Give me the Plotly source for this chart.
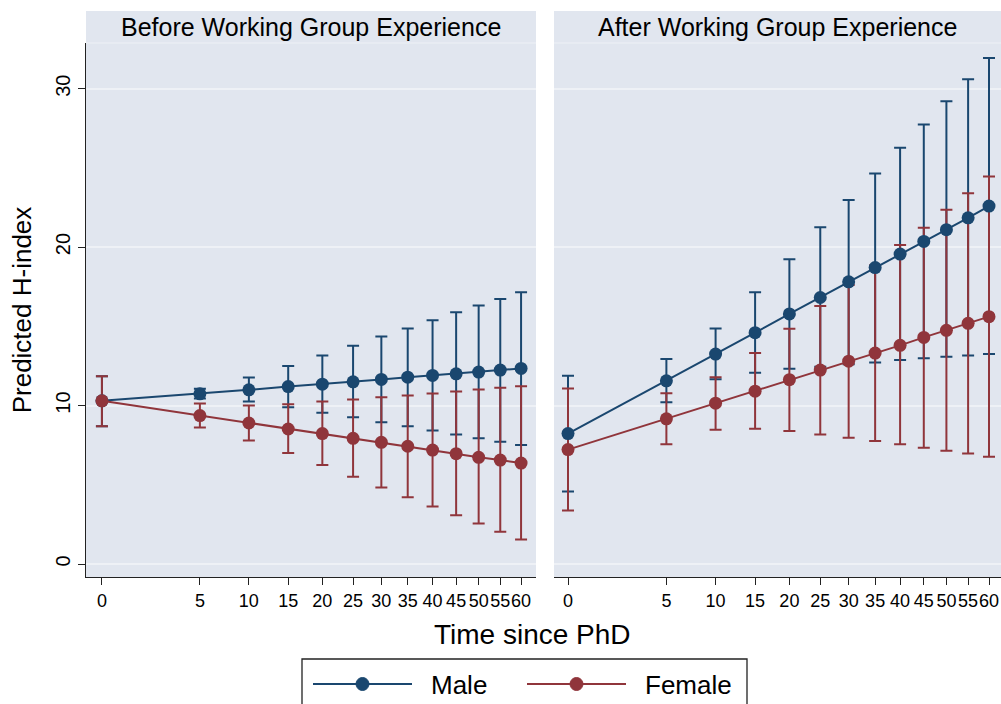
import plotly.graph_objects as go

# Years since PhD
years = [0, 5, 10, 15, 20, 25, 30, 35, 40, 45, 50, 55, 60]
tick_labels = [str(v) for v in years]

# Before working group experience
male_before = [10.30, 10.74, 10.99, 11.20, 11.35, 11.50, 11.65, 11.79, 11.90, 12.00, 12.11, 12.24, 12.34]
male_before_lo = [8.70, 10.44, 10.25, 9.89, 9.54, 9.26, 8.94, 8.69, 8.42, 8.18, 7.93, 7.72, 7.51]
male_before_hi = [11.85, 11.06, 11.77, 12.49, 13.16, 13.78, 14.35, 14.87, 15.38, 15.89, 16.31, 16.73, 17.15]
female_before = [10.30, 9.37, 8.90, 8.52, 8.23, 7.93, 7.68, 7.43, 7.19, 6.96, 6.73, 6.56, 6.37]
female_before_lo = [8.70, 8.61, 7.80, 7.00, 6.25, 5.51, 4.83, 4.22, 3.63, 3.08, 2.55, 2.03, 1.54]
female_before_hi = [11.85, 10.13, 10.00, 10.08, 10.25, 10.38, 10.53, 10.63, 10.76, 10.89, 11.01, 11.12, 11.22]

# After working group experience
male_after = [8.23, 11.56, 13.25, 14.60, 15.78, 16.82, 17.81, 18.71, 19.56, 20.36, 21.10, 21.85, 22.59]
male_after_lo = [4.58, 10.21, 11.66, 12.07, 12.32, 12.45, 12.60, 12.72, 12.87, 12.99, 13.08, 13.16, 13.25]
male_after_hi = [11.88, 12.93, 14.87, 17.15, 19.24, 21.25, 22.97, 24.64, 26.27, 27.74, 29.20, 30.59, 31.94]
female_after = [7.22, 9.16, 10.15, 10.91, 11.63, 12.24, 12.80, 13.31, 13.80, 14.30, 14.75, 15.19, 15.61]
female_after_lo = [3.38, 7.55, 8.48, 8.54, 8.40, 8.18, 7.97, 7.77, 7.55, 7.34, 7.15, 6.98, 6.77]
female_after_hi = [11.08, 10.78, 11.79, 13.31, 14.85, 16.29, 17.60, 18.85, 20.13, 21.22, 22.36, 23.40, 24.45]

panel_titles = ["Before Working Group Experience", "After Working Group Experience"]
legend_names = ["Male", "Female"]

NAVY = "#1a476f"
MAROON = "#90353b"
PANEL_BG = "#e1e6ef"
GRID = "#eef1f6"
FONT = "Liberation Sans, Arial, Helvetica, sans-serif"

# power-scaled time axis
POWER = 0.585


def scale(t):
    return t ** POWER


xs = [scale(t) for t in years]

W, H = 1001, 704
PLOT_TOP, PLOT_BOT = 43, 577
STRIP_TOP = 11
DOM1 = [86 / W, 536 / W]
DOM2 = [554 / W, 1.0]
YDOM = [1 - PLOT_BOT / H, 1 - PLOT_TOP / H]


def px(x):
    return x / W


def py(y):
    return 1 - y / H


fig = go.Figure()

series = [
    ("x", "y", male_before, male_before_lo, male_before_hi, female_before, female_before_lo, female_before_hi),
    ("x2", "y2", male_after, male_after_lo, male_after_hi, female_after, female_after_lo, female_after_hi),
]

for xa, ya, m, mlo, mhi, f, flo, fhi in series:
    # confidence intervals first, so points and lines sit on top
    for vals, lo, hi, col in [(m, mlo, mhi, NAVY), (f, flo, fhi, MAROON)]:
        fig.add_trace(go.Scatter(
            x=xs, y=vals, xaxis=xa, yaxis=ya, mode="markers",
            marker=dict(size=1, opacity=0, color=col),
            error_y=dict(type="data", symmetric=False,
                         array=[h - v for h, v in zip(hi, vals)],
                         arrayminus=[v - l for v, l in zip(vals, lo)],
                         color=col, thickness=2, width=6),
            showlegend=False, hoverinfo="skip"))
    for vals, col, name in [(m, NAVY, legend_names[0]), (f, MAROON, legend_names[1])]:
        fig.add_trace(go.Scatter(
            x=xs, y=vals, xaxis=xa, yaxis=ya, mode="lines+markers", name=name,
            line=dict(color=col, width=2),
            marker=dict(color=col, size=13),
            showlegend=False))

px_per_unit = (521 - 100) / scale(60)
xr1 = [-16 / px_per_unit, scale(60) + 15 / px_per_unit]
xr2 = [-14 / px_per_unit, scale(60) + 12 / px_per_unit]

yr = [-0.82, 32.88]

xaxis_common = dict(
    tickmode="array", tickvals=xs, ticktext=tick_labels, tickangle=0,
    ticks="outside", ticklen=7, tickwidth=1.3, tickcolor="#222",
    showline=True, linecolor="#222", linewidth=1.3,
    showgrid=False, zeroline=False,
    tickfont=dict(size=18, color="black", family=FONT),
)

fig.update_layout(
    width=W, height=H,
    margin=dict(l=0, r=0, t=0, b=0),
    paper_bgcolor="white",
    plot_bgcolor=PANEL_BG,
    font=dict(family=FONT, color="black"),
    showlegend=False,
    xaxis=dict(domain=DOM1, range=xr1, anchor="y", **xaxis_common),
    xaxis2=dict(domain=DOM2, range=xr2, anchor="y2", **xaxis_common),
    yaxis=dict(domain=YDOM, range=yr, anchor="x",
               tickvals=[0, 10, 20, 30], tickangle=-90,
               ticks="outside", ticklen=7, tickwidth=1.3, tickcolor="#222",
               showline=True, linecolor="#222", linewidth=1.3,
               gridcolor=GRID, gridwidth=1.5, zeroline=False,
               tickfont=dict(size=20, color="black", family=FONT),
               title=dict(text="Predicted H-index", font=dict(size=26), standoff=12)),
    yaxis2=dict(domain=YDOM, range=yr, anchor="x2", matches="y",
                tickvals=[0, 10, 20, 30], showticklabels=False,
                showline=False, ticks="",
                gridcolor=GRID, gridwidth=1.5, zeroline=False),
)

# panel title strips
for dom, title in zip([DOM1, DOM2], panel_titles):
    fig.add_shape(type="rect", xref="paper", yref="paper",
                  x0=dom[0], x1=dom[1], y0=py(PLOT_TOP), y1=py(STRIP_TOP),
                  fillcolor=PANEL_BG, line=dict(width=0), layer="below")
    fig.add_shape(type="line", xref="paper", yref="paper",
                  x0=dom[0], x1=dom[1], y0=py(PLOT_TOP), y1=py(PLOT_TOP),
                  line=dict(color=GRID, width=1))
    fig.add_annotation(text=title, xref="paper", yref="paper",
                       x=(dom[0] + dom[1]) / 2, y=py(27),
                       xanchor="center", yanchor="middle", showarrow=False,
                       font=dict(size=25, color="black", family=FONT))

fig.add_annotation(text="Time since PhD", xref="paper", yref="paper",
                   x=px(532), y=py(634), xanchor="center", yanchor="middle",
                   showarrow=False, font=dict(size=28, color="black", family=FONT))

# legend box with long key lines
fig.add_shape(type="rect", xref="paper", yref="paper",
              x0=px(302), x1=px(747), y0=py(712), y1=py(659),
              fillcolor="white", line=dict(color="#222", width=1.3))
LEG_Y = 684
for (x0, x1, xt), col, name in zip([(313, 412, 429), (527, 626, 643)],
                                   [NAVY, MAROON], legend_names):
    fig.add_shape(type="line", xref="paper", yref="paper",
                  x0=px(x0), x1=px(x1), y0=py(LEG_Y), y1=py(LEG_Y),
                  line=dict(color=col, width=2))
    xc = (x0 + x1) / 2
    fig.add_shape(type="circle", xref="paper", yref="paper",
                  xsizemode="pixel", ysizemode="pixel",
                  xanchor=px(xc), yanchor=py(LEG_Y),
                  x0=-6.5, x1=6.5, y0=-6.5, y1=6.5,
                  fillcolor=col, line=dict(color=col, width=1))
    fig.add_annotation(text=name, xref="paper", yref="paper",
                       x=px(xt), y=py(LEG_Y + 1), xanchor="left", yanchor="middle",
                       showarrow=False, font=dict(size=26, color="black", family=FONT))

fig.write_html("out.html")
